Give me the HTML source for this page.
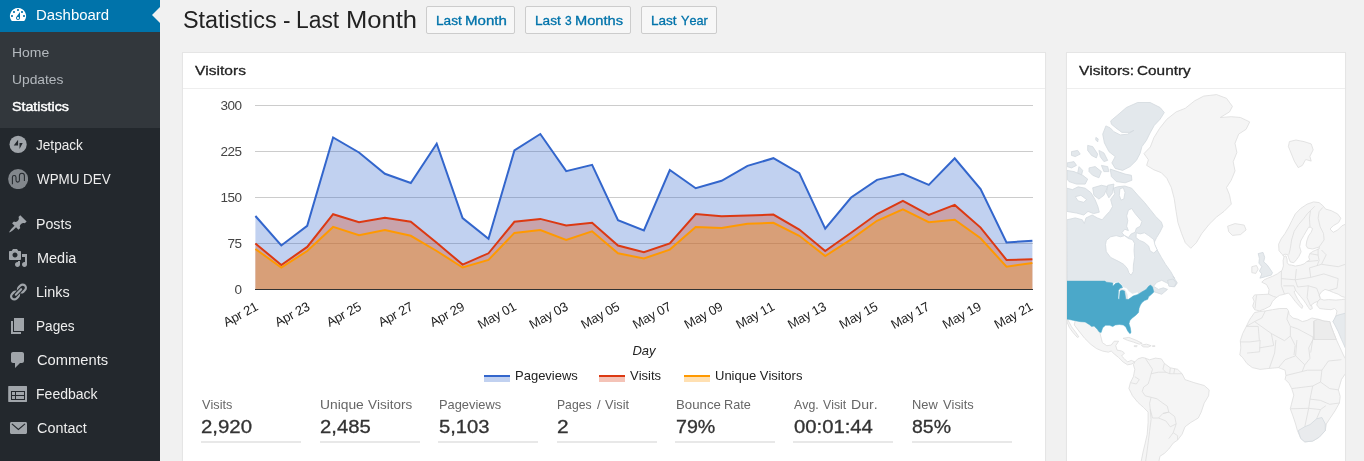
<!DOCTYPE html>
<html lang="en">
<head>
<meta charset="utf-8">
<title>Statistics</title>
<style>
html,body{margin:0;padding:0}
body{width:1364px;height:461px;overflow:hidden;background:#f1f1f1;font-family:"Liberation Sans",Arial,sans-serif;font-size:13px;color:#444;position:relative;font-kerning:none}
.t{position:absolute;display:block;white-space:nowrap;transform-origin:0 0;margin:0;padding:0}
#menu{position:absolute;left:0;top:0;width:160px;height:461px;background:#23282d;overflow:hidden}
#menu ul{list-style:none;margin:0;padding:0}
#menu .top{position:absolute;left:0;width:160px;height:34px;color:#eee}
#menu .top svg{position:absolute;left:8px;top:7px;width:20px;height:20px;fill:#a0a5aa}
#menu .cur{background:#0073aa;color:#fff}
#menu .cur svg{fill:#fff}
#menu .cur:after{content:"";position:absolute;right:0;top:9px;border:8px solid transparent;border-right-color:#f1f1f1;border-left-width:0}
#menu .sub{position:absolute;left:0;top:32px;width:160px;height:96px;background:#32373c;color:#b4b9be}
h1{margin:0;font-weight:400;color:#222;font-size:23px}
.btn{position:absolute;top:6px;height:26px;border:1px solid #ccc;border-radius:2px;background:#f7f7f7;color:#0073aa}
.box{position:absolute;background:#fff;border:1px solid #e5e5e5;box-shadow:0 1px 1px rgba(0,0,0,.04);box-sizing:border-box;overflow:hidden}
.box h2{margin:0;height:35px;border-bottom:1px solid #eee;font-size:14px;font-weight:400;color:#222}
.chart{position:absolute;left:0;top:36px}
.map{position:absolute;left:0;top:36px}
.stat{position:absolute;top:343px;width:100px;height:45px;border-bottom:2px solid #e8e8e8}
</style>
</head>
<body>
<div id="menu">
<ul>
<li class="top cur" style="top:-2px"><svg viewBox="0 0 20 20"><path d="M3.76 16h12.48A7.998 7.998 0 0 0 10 3a7.998 7.998 0 0 0-6.24 13zM10 4c.55 0 1 .45 1 1s-.45 1-1 1-1-.45-1-1 .45-1 1-1zM6 6c.55 0 1 .45 1 1s-.45 1-1 1-1-.45-1-1 .45-1 1-1zm8 0c.55 0 1 .45 1 1s-.45 1-1 1-1-.45-1-1 .45-1 1-1zm-5.370 5.550L12 7v6c0 1.100-.9 2-2 2s-2-.9-2-2c0-.570.240-1.080.630-1.450zM4 10c.550 0 1 .450 1 1s-.450 1-1 1-1-.450-1-1 .450-1 1-1zm12 0c.550 0 1 .450 1 1s-.450 1-1 1-1-.450-1-1 .450-1 1-1zm-5 3c0-.550-.450-1-1-1s-1 .450-1 1 .450 1 1 1 1-.450 1-1z"/></svg><span class="t" style="left:35.87px;top:9px;font-size:14px;line-height:16px;transform:scaleX(1.0672);">Dashboard</span></li>
</ul>
<ul class="sub">
<li class="t" style="left:12.05px;top:13px;font-size:13px;line-height:15px;transform:scaleX(1.0747);">Home</li><li class="t" style="left:11.73px;top:40px;font-size:13px;line-height:15px;transform:scaleX(1.0629);">Updates</li><li class="t" style="left:11.85px;top:67px;font-size:13px;line-height:15px;transform:scaleX(1.0932);color:#fff;-webkit-text-stroke:0.45px;">Statistics</li>
</ul>
<ul>
<li class="top" style="top:128px"><svg viewBox="0 0 20 20"><circle cx="10.1" cy="9.4" r="8.6"/><path d="M10.100 4.700v5.900H5.700zM11.500 8.100h3.200l-3.200 5.900z" fill="#23282d"/></svg><span class="t" style="left:35.69px;top:9px;font-size:14px;line-height:16px;transform:scaleX(0.9719);">Jetpack</span></li>
<li class="top" style="top:162px"><svg viewBox="0 0 20 20"><circle cx="10.1" cy="10.1" r="10" fill="#82878c"/><path d="M4.400 15.200V8.300C4.400 7 5 6.400 6.200 6.400S8 7 8 8.300v2.900c0 1.300.6 1.900 1.700 1.900s1.700-.6 1.700-1.900V6.800c0-1.800 1-2.500 2.500-2.500s2.500.7 2.500 2.500v5.300" fill="none" stroke="#23282d" stroke-width="1.050"/></svg><span class="t" style="left:36.64px;top:9px;font-size:14px;line-height:16px;transform:scaleX(0.9561);">WPMU DEV</span></li>
<li class="top" style="top:207px"><svg viewBox="0 0 20 20"><path d="M10.440 3.020l1.820-1.820 6.360 6.350-1.830 1.820c-1.050-.68-2.480-.57-3.410.36l-.75.750c-.92.930-1.040 2.350-.35 3.410l-1.830 1.820-2.410-2.410-2.800 2.790c-.42.420-3.380 2.710-3.800 2.290s1.860-3.390 2.280-3.810l2.790-2.790L4.100 9.360l1.830-1.820c1.050.69 2.480.57 3.400-.36l.75-.750c.93-.92 1.050-2.350.36-3.410z"/></svg><span class="t" style="left:36.14px;top:9px;font-size:14px;line-height:16px;transform:scaleX(1.0132);">Posts</span></li>
<li class="top" style="top:241px"><svg viewBox="0 0 20 20"><path d="M13 11V4c0-.55-.45-1-1-1h-1.670L9 1H5L3.670 3H2c-.55 0-1 .45-1 1v7c0 .55.45 1 1 1h10c.55 0 1-.45 1-1zM7 4.500c1.380 0 2.500 1.120 2.500 2.500S8.380 9.500 7 9.500 4.500 8.380 4.500 7 5.620 4.500 7 4.500zM14 6h5v10.500c0 1.380-1.120 2.500-2.500 2.500S14 17.880 14 16.500s1.120-2.500 2.500-2.500c.17 0 .34.020.5.050V9h-3V6zm-4 8.050V13h2v3.500c0 1.380-1.120 2.500-2.500 2.500S7 17.880 7 16.500 8.120 14 9.500 14c.17 0 .34.020.5.050z"/></svg><span class="t" style="left:36.71px;top:9px;font-size:14px;line-height:16px;transform:scaleX(1.0329);">Media</span></li>
<li class="top" style="top:275px"><svg viewBox="0 0 20 20"><path d="M17.740 2.760c1.680 1.690 1.680 4.410 0 6.100l-1.530 1.520c-1.120 1.120-2.700 1.470-4.140 1.090l2.620-2.610.76-.77.760-.76c.84-.84.840-2.200 0-3.040-.84-.85-2.200-.85-3.040 0l-.77.760-3.380 3.380c-.37-1.440-.02-3.020 1.100-4.140l1.520-1.530c1.690-1.680 4.420-1.680 6.100 0zM8.590 13.430l5.340-5.340c.42-.42.420-1.100 0-1.520-.44-.43-1.130-.39-1.530 0l-5.330 5.340c-.42.420-.42 1.100 0 1.520.44.430 1.130.39 1.520 0zm-.76 2.290l4.140-4.150c.38 1.440.03 3.020-1.090 4.140l-1.520 1.530c-1.690 1.680-4.410 1.680-6.100 0-1.680-1.680-1.680-4.420 0-6.100l1.530-1.520c1.120-1.120 2.700-1.470 4.140-1.100l-4.140 4.150c-.85.840-.85 2.200 0 3.050.84.840 2.200.84 3.040 0z"/></svg><span class="t" style="left:36.12px;top:9px;font-size:14px;line-height:16px;transform:scaleX(1.0281);">Links</span></li>
<li class="top" style="top:309px"><svg viewBox="0 0 20 20"><path d="M6 15V2h10v13H6zm-1 1h8v2H3V5h2v11z"/></svg><span class="t" style="left:36.18px;top:9px;font-size:14px;line-height:16px;transform:scaleX(0.9726);">Pages</span></li>
<li class="top" style="top:343px"><svg viewBox="0 0 20 20"><path d="M5 2h9c1.100 0 2 .9 2 2v7c0 1.100-.9 2-2 2h-2l-5 5v-5H5c-1.100 0-2-.9-2-2V4c0-1.100.9-2 2-2z"/></svg><span class="t" style="left:36.85px;top:9px;font-size:14px;line-height:16px;transform:scaleX(1.0502);">Comments</span></li>
<li class="top" style="top:377px"><svg viewBox="0 0 20 20"><path d="M.700 2h17.800c.3 0 .5.200.5.500v15c0 .3-.2.500-.5.500H.7c-.3 0-.5-.2-.5-.5v-15c0-.3.200-.5.500-.5zM17 16V7H3v9h14zM4 8v3h3V8H4zm4 0v3h8V8H8zm-4 4v3h3v-3H4zm4 0v3h8v-3H8z"/></svg><span class="t" style="left:36.15px;top:9px;font-size:14px;line-height:16px;transform:scaleX(1.0024);">Feedback</span></li>
<li class="top" style="top:411px"><svg viewBox="0 0 20 20"><path d="M19 14.500v-9c0-.83-.67-1.500-1.500-1.500H3.490c-.83 0-1.500.67-1.500 1.500v9c0 .83.670 1.500 1.500 1.500H17.500c.83 0 1.500-.67 1.500-1.500z"/><path d="M3.900 5.800l6.500 5.700 6.600-5.700" fill="none" stroke="#23282d" stroke-width="1.100"/></svg><span class="t" style="left:36.87px;top:9px;font-size:14px;line-height:16px;transform:scaleX(1.0288);">Contact</span></li>
</ul>
</div>

<h1><span class="t w" style="left:182.54px;top:7px;font-size:23px;line-height:26px;transform:scaleX(1.0172);">Statistics</span><span class="t w" style="left:282.60px;top:7px;font-size:23px;line-height:26px;transform:scaleX(0.9795);">-</span><span class="t w" style="left:296.23px;top:7px;font-size:23px;line-height:26px;transform:scaleX(0.9923);">Last</span><span class="t w" style="left:345.60px;top:7px;font-size:23px;line-height:26px;transform:scaleX(1.1116);">Month</span></h1>
<a class="btn" style="left:426px;width:87px"><span class="t" style="left:8.68px;top:6px;font-size:13px;line-height:15px;transform:scaleX(1.0466);-webkit-text-stroke:0.32px;">Last</span><span class="t" style="left:38.07px;top:6px;font-size:13px;line-height:15px;transform:scaleX(1.1572);-webkit-text-stroke:0.32px;">Month</span></a>
<a class="btn" style="left:525px;width:104px"><span class="t" style="left:8.68px;top:6px;font-size:13px;line-height:15px;transform:scaleX(1.0466);-webkit-text-stroke:0.32px;">Last</span><span class="t" style="left:38.74px;top:6px;font-size:13px;line-height:15px;transform:scaleX(0.9248);-webkit-text-stroke:0.32px;">3</span><span class="t" style="left:48.70px;top:6px;font-size:13px;line-height:15px;transform:scaleX(1.1267);-webkit-text-stroke:0.32px;">Months</span></a>
<a class="btn" style="left:641px;width:74px"><span class="t" style="left:8.69px;top:6px;font-size:13px;line-height:15px;transform:scaleX(1.0423);-webkit-text-stroke:0.32px;">Last</span><span class="t" style="left:39.22px;top:6px;font-size:13px;line-height:15px;transform:scaleX(0.9756);-webkit-text-stroke:0.32px;">Year</span></a>

<div class="box" style="left:182px;top:52px;width:864px;height:420px">
<h2><span class="t" style="left:11.93px;top:10.200000000000003px;font-size:13.6px;line-height:15px;transform:scaleX(1.1423);-webkit-text-stroke:0.3px;">Visitors</span></h2>
<svg class="chart" width="862" height="310" viewBox="183 89 862 310">
<g stroke="#ccc" stroke-width="1" shape-rendering="crispEdges">
<line x1="255" x2="1033" y1="105.5" y2="105.5"/><line x1="255" x2="1033" y1="151.5" y2="151.5"/><line x1="255" x2="1033" y1="197.5" y2="197.5"/><line x1="255" x2="1033" y1="243.5" y2="243.5"/>
</g>
<polygon points="255.4,289.5 255.4,216.0 281.3,245.5 307.2,225.9 333.1,137.5 359.0,152.5 384.9,173.8 410.8,183.0 436.7,143.7 462.6,218.1 488.5,238.9 514.4,150.5 540.3,134.0 566.2,171.1 592.1,164.9 618.0,220.1 643.9,230.4 669.8,170.0 695.7,188.2 721.6,180.8 747.5,165.9 773.4,158.2 799.3,173.1 825.2,228.6 851.1,197.5 877.0,179.9 902.9,173.8 928.8,184.9 954.7,158.3 980.6,189.0 1006.5,242.4 1032.4,240.7 1032.4,289.5" fill="#3366cc" fill-opacity="0.3"/>
<polygon points="255.4,289.5 255.4,243.4 281.3,265.0 307.2,246.9 333.1,214.2 359.0,222.2 384.9,217.7 410.8,221.8 436.7,242.8 462.6,264.6 488.5,253.3 514.4,221.8 540.3,218.9 566.2,225.5 592.1,222.8 618.0,245.5 643.9,252.3 669.8,243.4 695.7,214.0 721.6,216.2 747.5,215.6 773.4,214.6 799.3,229.6 825.2,251.0 851.1,232.7 877.0,214.0 902.9,200.8 928.8,215.0 954.7,204.9 980.6,227.6 1006.5,259.9 1032.4,259.3 1032.4,289.5" fill="#dc3912" fill-opacity="0.3"/>
<polygon points="255.4,289.5 255.4,249.0 281.3,267.5 307.2,251.0 333.1,226.9 359.0,235.2 384.9,230.0 410.8,235.8 436.7,251.0 462.6,267.5 488.5,259.9 514.4,232.9 540.3,230.0 566.2,239.9 592.1,231.3 618.0,253.3 643.9,258.5 669.8,249.6 695.7,226.9 721.6,228.0 747.5,223.8 773.4,222.8 799.3,235.8 825.2,256.0 851.1,239.3 877.0,220.8 902.9,209.4 928.8,222.2 954.7,219.7 980.6,238.3 1006.5,266.7 1032.4,263.0 1032.4,289.5" fill="#ff9900" fill-opacity="0.3"/>
<line x1="255" x2="1033" y1="289.5" y2="289.5" stroke="#333" stroke-width="1" shape-rendering="crispEdges"/>
<polyline points="255.4,216.0 281.3,245.5 307.2,225.9 333.1,137.5 359.0,152.5 384.9,173.8 410.8,183.0 436.7,143.7 462.6,218.1 488.5,238.9 514.4,150.5 540.3,134.0 566.2,171.1 592.1,164.9 618.0,220.1 643.9,230.4 669.8,170.0 695.7,188.2 721.6,180.8 747.5,165.9 773.4,158.2 799.3,173.1 825.2,228.6 851.1,197.5 877.0,179.9 902.9,173.8 928.8,184.9 954.7,158.3 980.6,189.0 1006.5,242.4 1032.4,240.7" fill="none" stroke="#3366cc" stroke-width="2"/>
<polyline points="255.4,243.4 281.3,265.0 307.2,246.9 333.1,214.2 359.0,222.2 384.9,217.7 410.8,221.8 436.7,242.8 462.6,264.6 488.5,253.3 514.4,221.8 540.3,218.9 566.2,225.5 592.1,222.8 618.0,245.5 643.9,252.3 669.8,243.4 695.7,214.0 721.6,216.2 747.5,215.6 773.4,214.6 799.3,229.6 825.2,251.0 851.1,232.7 877.0,214.0 902.9,200.8 928.8,215.0 954.7,204.9 980.6,227.6 1006.5,259.9 1032.4,259.3" fill="none" stroke="#dc3912" stroke-width="2"/>
<polyline points="255.4,249.0 281.3,267.5 307.2,251.0 333.1,226.9 359.0,235.2 384.9,230.0 410.8,235.8 436.7,251.0 462.6,267.5 488.5,259.9 514.4,232.9 540.3,230.0 566.2,239.9 592.1,231.3 618.0,253.3 643.9,258.5 669.8,249.6 695.7,226.9 721.6,228.0 747.5,223.8 773.4,222.8 799.3,235.8 825.2,256.0 851.1,239.3 877.0,220.8 902.9,209.4 928.8,222.2 954.7,219.7 980.6,238.3 1006.5,266.7 1032.4,263.0" fill="none" stroke="#ff9900" stroke-width="2"/>
<g font-family="Liberation Sans, Arial, sans-serif" font-size="13.5" fill="#444" letter-spacing="-0.55">
<g text-anchor="end">
<text x="241.4" y="110">300</text><text x="241.4" y="156">225</text><text x="241.4" y="202">150</text><text x="241.4" y="248">75</text><text x="241.4" y="294">0</text>
</g>
</g>
<g font-family="Liberation Sans, Arial, sans-serif" font-size="13" fill="#222" letter-spacing="-0.18">
<text x="258.9" y="309.3" text-anchor="end" transform="rotate(-28.5 258.9 309.3)">Apr 21</text>
<text x="310.6" y="309.3" text-anchor="end" transform="rotate(-28.5 310.6 309.3)">Apr 23</text>
<text x="362.2" y="309.3" text-anchor="end" transform="rotate(-28.5 362.2 309.3)">Apr 25</text>
<text x="413.9" y="309.3" text-anchor="end" transform="rotate(-28.5 413.9 309.3)">Apr 27</text>
<text x="465.5" y="309.3" text-anchor="end" transform="rotate(-28.5 465.5 309.3)">Apr 29</text>
<text x="517.2" y="309.3" text-anchor="end" transform="rotate(-28.5 517.2 309.3)">May 01</text>
<text x="568.9" y="309.3" text-anchor="end" transform="rotate(-28.5 568.9 309.3)">May 03</text>
<text x="620.5" y="309.3" text-anchor="end" transform="rotate(-28.5 620.5 309.3)">May 05</text>
<text x="672.2" y="309.3" text-anchor="end" transform="rotate(-28.5 672.2 309.3)">May 07</text>
<text x="723.8" y="309.3" text-anchor="end" transform="rotate(-28.5 723.8 309.3)">May 09</text>
<text x="775.5" y="309.3" text-anchor="end" transform="rotate(-28.5 775.5 309.3)">May 11</text>
<text x="827.2" y="309.3" text-anchor="end" transform="rotate(-28.5 827.2 309.3)">May 13</text>
<text x="878.8" y="309.3" text-anchor="end" transform="rotate(-28.5 878.8 309.3)">May 15</text>
<text x="930.5" y="309.3" text-anchor="end" transform="rotate(-28.5 930.5 309.3)">May 17</text>
<text x="982.1" y="309.3" text-anchor="end" transform="rotate(-28.5 982.1 309.3)">May 19</text>
<text x="1033.8" y="309.3" text-anchor="end" transform="rotate(-28.5 1033.8 309.3)">May 21</text>
</g>
<text x="644" y="355" text-anchor="middle" font-family="Liberation Sans, Arial, sans-serif" font-size="13" font-style="italic" fill="#222">Day</text>
<g font-family="Liberation Sans, Arial, sans-serif" font-size="13" fill="#222">
<rect x="484" y="376" width="26" height="6" fill="#3366cc" fill-opacity="0.3"/><rect x="484" y="375" width="26" height="2" fill="#3366cc"/><text x="515" y="380">Pageviews</text>
<rect x="599" y="376" width="26" height="6" fill="#dc3912" fill-opacity="0.3"/><rect x="599" y="375" width="26" height="2" fill="#dc3912"/><text x="630" y="380">Visits</text>
<rect x="684" y="376" width="26" height="6" fill="#ff9900" fill-opacity="0.3"/><rect x="684" y="375" width="26" height="2" fill="#ff9900"/><text x="715" y="380">Unique Visitors</text>
</g>
</svg>
<div class="stat" style="left:18px"><div class="l"><span class="t" style="left:1.24px;top:1px;font-size:13px;line-height:15px;transform:scaleX(0.9760);color:#666;">Visits</span></div><div class="v"><span class="t" style="left:0.27px;top:21.399999999999977px;font-size:17.5px;line-height:20px;transform:scaleX(1.1651);color:#333;-webkit-text-stroke:0.3px;">2,920</span></div></div>
<div class="stat" style="left:137px"><div class="l"><span class="t" style="left:0.13px;top:1px;font-size:13px;line-height:15px;transform:scaleX(1.0627);color:#666;">Unique</span><span class="t" style="left:47.54px;top:1px;font-size:13px;line-height:15px;transform:scaleX(1.0358);color:#666;">Visitors</span></div><div class="v"><span class="t" style="left:0.18px;top:21.399999999999977px;font-size:17.5px;line-height:20px;transform:scaleX(1.1570);color:#333;-webkit-text-stroke:0.3px;">2,485</span></div></div>
<div class="stat" style="left:255px"><div class="l"><span class="t" style="left:0.85px;top:1px;font-size:13px;line-height:15px;transform:scaleX(0.9881);color:#666;">Pageviews</span></div><div class="v"><span class="t" style="left:1.09px;top:21.399999999999977px;font-size:17.5px;line-height:20px;transform:scaleX(1.1530);color:#333;-webkit-text-stroke:0.3px;">5,103</span></div></div>
<div class="stat" style="left:374px"><div class="l"><span class="t" style="left:-0.10px;top:1px;font-size:13px;line-height:15px;transform:scaleX(0.9370);color:#666;">Pages</span><span class="t" style="left:39.70px;top:1px;font-size:13px;line-height:15px;transform:scaleX(0.9967);color:#666;">/</span><span class="t" style="left:48.04px;top:1px;font-size:13px;line-height:15px;transform:scaleX(0.9792);color:#666;">Visit</span></div><div class="v"><span class="t" style="left:-0.15px;top:21.399999999999977px;font-size:17.5px;line-height:20px;transform:scaleX(1.1916);color:#333;-webkit-text-stroke:0.3px;">2</span></div></div>
<div class="stat" style="left:492px"><div class="l"><span class="t" style="left:0.51px;top:1px;font-size:13px;line-height:15px;transform:scaleX(1.0177);color:#666;">Bounce</span><span class="t" style="left:49.46px;top:1px;font-size:13px;line-height:15px;transform:scaleX(0.9761);color:#666;">Rate</span></div><div class="v"><span class="t" style="left:0.59px;top:21.399999999999977px;font-size:17.5px;line-height:20px;transform:scaleX(1.1222);color:#333;-webkit-text-stroke:0.3px;">79%</span></div></div>
<div class="stat" style="left:610px"><div class="l"><span class="t" style="left:1.08px;top:1px;font-size:13px;line-height:15px;transform:scaleX(0.9476);color:#666;">Avg.</span><span class="t" style="left:30.25px;top:1px;font-size:13px;line-height:15px;transform:scaleX(0.9424);color:#666;">Visit</span><span class="t" style="left:57.74px;top:1px;font-size:13px;line-height:15px;transform:scaleX(1.0849);color:#666;">Dur.</span></div><div class="v"><span class="t" style="left:0.81px;top:21.399999999999977px;font-size:17.5px;line-height:20px;transform:scaleX(1.1580);color:#333;-webkit-text-stroke:0.3px;">00:01:44</span></div></div>
<div class="stat" style="left:729px"><div class="l"><span class="t" style="left:0.15px;top:1px;font-size:13px;line-height:15px;transform:scaleX(0.9891);color:#666;">New</span><span class="t" style="left:30.74px;top:1px;font-size:13px;line-height:15px;transform:scaleX(0.9891);color:#666;">Visits</span></div><div class="v"><span class="t" style="left:0.35px;top:21.399999999999977px;font-size:17.5px;line-height:20px;transform:scaleX(1.1117);color:#333;-webkit-text-stroke:0.3px;">85%</span></div></div>
</div>

<div class="box" style="left:1066px;top:52px;width:280px;height:420px">
<h2><span class="t" style="left:12.23px;top:10.200000000000003px;font-size:13.6px;line-height:15px;transform:scaleX(1.1410);-webkit-text-stroke:0.3px;">Visitors:</span><span class="t" style="left:70.12px;top:10.200000000000003px;font-size:13.6px;line-height:15px;transform:scaleX(1.1279);-webkit-text-stroke:0.3px;">Country</span></h2>
<svg class="map" width="278" height="372" viewBox="1067 89 278 372" stroke-linejoin="round">
<path d="M1110.7 120.9 L1117.7 115.0 L1126.4 107.5 L1137.6 102.5 L1150.1 102.5 L1160.1 107.5 L1164.3 112.5 L1160.1 119.2 L1154.3 125.4 L1150.1 132.9 L1146.4 140.4 L1141.9 146.6 L1140.1 153.4 L1136.4 160.4 L1130.1 166.6 L1122.6 170.4 L1115.2 168.4 L1111.9 162.9 L1115.2 156.6 L1108.9 151.6 L1104.4 142.9 L1102.7 134.2 L1105.9 125.9 L1110.2 127.9 L1113.9 131.7 L1120.2 134.9 L1127.6 134.2 L1133.9 130.4 L1129.4 132.4 L1121.9 132.4 L1115.9 127.9 L1111.4 124.2Z" fill="#e3e8ec" stroke="#d3d9de" stroke-width="0.8"/>
<path d="M1110.2 169.1 L1117.7 171.6 L1125.1 174.1 L1131.4 175.3 L1131.9 180.3 L1125.1 182.8 L1116.4 181.6 L1111.4 176.6Z" fill="#e3e8ec" stroke="#d3d9de" stroke-width="0.8"/>
<path d="M1087.7 145.4 L1092.7 146.6 L1097.7 154.1 L1096.4 157.9 L1091.5 155.4 L1087.7 150.4Z" fill="#e3e8ec" stroke="#d3d9de" stroke-width="0.8"/>
<path d="M1098.9 150.4 L1103.9 152.9 L1107.7 160.4 L1103.9 161.6 L1100.2 156.6Z" fill="#e3e8ec" stroke="#d3d9de" stroke-width="0.8"/>
<path d="M1071.5 151.6 L1077.7 150.4 L1080.2 154.1 L1075.2 156.6 L1071.5 155.4Z" fill="#e3e8ec" stroke="#d3d9de" stroke-width="0.8"/>
<path d="M1067.0 162.9 L1074.0 161.6 L1076.5 165.4 L1071.5 167.9 L1067.0 166.6Z" fill="#e3e8ec" stroke="#d3d9de" stroke-width="0.8"/>
<path d="M1079.0 166.6 L1082.7 170.4 L1081.5 175.3 L1077.7 172.9Z" fill="#e3e8ec" stroke="#d3d9de" stroke-width="0.8"/>
<path d="M1089.0 167.9 L1095.2 166.6 L1101.4 171.6 L1098.9 177.8 L1092.7 175.3 L1089.0 171.6Z" fill="#e3e8ec" stroke="#d3d9de" stroke-width="0.8"/>
<path d="M1101.4 165.4 L1107.7 166.6 L1108.9 171.6 L1103.9 171.6Z" fill="#e3e8ec" stroke="#d3d9de" stroke-width="0.8"/>
<path d="M1067.0 170.4 L1074.0 171.6 L1082.7 175.3 L1087.7 179.1 L1085.2 184.1 L1076.5 184.1 L1069.0 181.6 L1067.0 179.1Z" fill="#e3e8ec" stroke="#d3d9de" stroke-width="0.8"/>
<path d="M1092.7 187.8 L1101.4 185.3 L1107.7 186.6 L1103.9 195.3 L1098.9 199.1 L1093.9 195.3Z" fill="#e3e8ec" stroke="#d3d9de" stroke-width="0.8"/>
<path d="M1107.7 185.3 L1113.9 184.1 L1112.7 192.8 L1108.9 197.8 L1106.4 192.8Z" fill="#e3e8ec" stroke="#d3d9de" stroke-width="0.8"/>
<path d="M1095.9 137.4 L1098.2 138.9 L1097.7 141.9 L1095.7 139.9Z" fill="#e3e8ec" stroke="#d3d9de" stroke-width="0.8"/>
<path d="M1066.8 219.8 L1075.3 217.9 L1082.3 219.8 L1084.3 223.5 L1086.0 217.9 L1092.2 215.0 L1097.3 217.9 L1102.1 219.8 L1106.3 215.0 L1109.7 211.4 L1112.5 206.6 L1110.6 199.5 L1114.8 193.9 L1113.4 188.2 L1117.6 186.8 L1124.7 186.0 L1131.7 188.2 L1137.9 195.3 L1144.4 202.3 L1150.1 209.4 L1155.7 216.4 L1161.4 222.1 L1162.8 226.3 L1160.0 232.0 L1156.6 237.6 L1153.8 243.3 L1157.1 249.8 L1161.4 257.4 L1165.6 264.4 L1170.7 271.5 L1174.6 278.5 L1173.1 276.4 L1177.3 282.9 L1174.7 286.8 L1168.2 283.6 L1161.7 280.3 L1156.8 282.3 L1153.5 286.2 L1158.4 289.4 L1163.3 287.8 L1167.5 289.4 L1161.7 294.3 L1156.8 292.7 L1151.9 291.1 L1150.3 292.7 L1129.1 299.2 L1067.3 299.2Z" fill="#e3e8ec" stroke="#d3d9de" stroke-width="0.8"/>
<path d="M1106.3 240.4 L1110.6 236.8 L1116.2 235.6 L1120.4 236.8 L1124.7 235.6 L1128.4 238.5 L1132.3 239.6 L1134.6 243.3 L1134.0 250.3 L1134.6 257.4 L1133.4 265.0 L1133.2 271.5 L1131.2 275.2 L1128.9 272.9 L1127.5 268.7 L1123.8 264.4 L1119.0 261.6 L1110.6 257.4 L1106.3 251.7 L1105.5 244.7Z" fill="#ffffff" stroke="#d3d9de" stroke-width="0.8"/>
<path d="M1128.4 210.2 L1131.7 208.5 L1135.1 213.6 L1138.8 217.9 L1141.9 221.5 L1140.2 226.3 L1136.3 228.3 L1135.1 232.3 L1131.2 233.9 L1128.4 237.6 L1124.7 235.6 L1121.9 232.8 L1124.7 229.2 L1128.4 230.6 L1126.7 226.3 L1127.8 220.7 L1126.7 215.9Z" fill="#ffffff" stroke="#d3d9de" stroke-width="0.8"/>
<path d="M1136.3 232.8 L1140.2 233.9 L1144.4 232.8 L1148.7 235.6 L1153.8 239.6 L1154.9 244.7 L1157.1 249.8 L1153.8 253.1 L1150.1 250.9 L1148.7 246.1 L1144.4 242.4 L1139.6 240.4 L1136.0 237.6Z" fill="#ffffff" stroke="#d3d9de" stroke-width="0.8"/>
<path d="M1119.9 188.8 L1123.3 187.7 L1125.0 192.5 L1123.8 199.0 L1121.0 200.1 L1119.3 195.3Z" fill="#ffffff" stroke="#d3d9de" stroke-width="0.8"/>
<path d="M1066.8 188.2 L1072.5 189.6 L1078.1 186.8 L1085.2 188.2 L1090.8 192.5 L1095.0 199.5 L1097.9 206.6 L1099.3 212.2 L1093.6 213.6 L1088.0 211.4 L1083.8 215.0 L1076.7 213.1 L1066.8 211.4Z" fill="#e3e8ec" stroke="#d3d9de" stroke-width="0.8"/>
<path d="M1075.3 196.7 L1080.9 195.3 L1086.6 199.5 L1083.8 202.3 L1078.1 200.9Z" fill="#ffffff" stroke="#d3d9de" stroke-width="0.8"/>
<path d="M1167.5 280.3 L1173.1 279.0 L1176.3 282.9 L1174.1 286.8 L1168.9 286.2Z" fill="#e3e8ec" stroke="#d3d9de" stroke-width="0.8"/>
<path d="M1144.0 153.6 L1150.3 147.0 L1153.9 137.7 L1159.5 128.5 L1166.8 119.3 L1176.1 111.9 L1185.3 108.3 L1194.5 100.9 L1203.7 96.1 L1216.6 94.6 L1226.5 98.3 L1232.4 106.4 L1229.5 111.9 L1220.3 117.5 L1231.3 116.7 L1240.5 117.5 L1249.7 121.9 L1246.1 129.3 L1238.7 134.1 L1235.0 143.3 L1236.9 152.5 L1233.2 161.7 L1235.0 170.9 L1231.3 180.1 L1226.5 187.5 L1229.5 194.9 L1231.3 204.1 L1224.0 211.4 L1216.6 217.0 L1209.2 224.3 L1201.8 233.5 L1196.3 242.8 L1190.8 248.3 L1185.3 242.8 L1181.6 233.5 L1177.9 222.5 L1176.1 211.4 L1174.2 198.5 L1171.3 187.5 L1166.8 178.3 L1161.3 172.7 L1153.9 169.8 L1146.6 165.4 L1148.4 159.8Z" fill="#f5f5f5" stroke="#dddddd" stroke-width="0.8"/>
<path d="M1227.6 226.2 L1235.0 223.6 L1244.2 225.1 L1246.1 229.9 L1240.5 234.6 L1232.4 235.4 L1228.7 231.7Z" fill="#f5f5f5" stroke="#dddddd" stroke-width="0.8"/>
<path d="M1074.3 325.0 L1078.8 330.9 L1084.7 338.3 L1090.6 344.2 L1096.5 348.6 L1102.4 351.0 L1108.3 352.2 L1111.2 351.0 L1114.2 353.9 L1118.6 357.5 L1123.0 361.9 L1127.5 364.8 L1131.9 364.0 L1134.8 361.9 L1131.3 360.4 L1127.5 361.9 L1124.5 358.9 L1121.6 356.0 L1124.5 353.0 L1121.6 351.0 L1117.1 350.1 L1115.7 345.7 L1118.6 341.2 L1114.2 341.2 L1111.2 345.1 L1106.8 345.7 L1102.4 342.7 L1100.9 336.8 L1099.4 330.9 L1097.9 325.0 L1093.5 317.6 L1075.8 317.6Z" fill="#f5f5f5" stroke="#dddddd" stroke-width="0.8"/>
<path d="M1067.5 319.1 L1071.4 326.5 L1075.8 332.4 L1078.8 336.8 L1077.3 337.4 L1072.9 332.4 L1069.3 327.4 L1067.0 322.0Z" fill="#f5f5f5" stroke="#dddddd" stroke-width="0.8"/>
<path d="M1123.0 338.3 L1128.9 337.4 L1136.3 340.3 L1142.2 343.3 L1139.3 344.2 L1133.4 342.1 L1127.5 340.3Z" fill="#f5f5f5" stroke="#dddddd" stroke-width="0.8"/>
<path d="M1141.3 345.1 L1146.6 344.2 L1151.1 345.7 L1148.1 347.1 L1143.1 346.8Z" fill="#f5f5f5" stroke="#dddddd" stroke-width="0.8"/>
<path d="M1152.5 345.7 L1154.9 345.7 L1154.9 346.5 L1152.5 346.5Z" fill="#f5f5f5" stroke="#dddddd" stroke-width="0.8"/>
<path d="M1134.2 345.7 L1137.2 345.7 L1136.6 346.8 L1134.2 346.5Z" fill="#f5f5f5" stroke="#dddddd" stroke-width="0.8"/>
<path d="M1134.8 361.9 L1137.8 358.9 L1142.2 357.5 L1145.2 358.1 L1149.6 359.8 L1155.5 358.1 L1161.4 358.9 L1164.4 363.4 L1170.3 367.8 L1177.6 369.3 L1182.1 373.7 L1185.0 379.6 L1193.9 382.6 L1204.2 385.5 L1209.2 389.9 L1208.6 395.8 L1204.2 403.2 L1201.2 412.1 L1198.3 418.0 L1190.9 422.4 L1185.0 426.8 L1182.1 434.2 L1177.6 440.1 L1173.2 443.1 L1168.8 449.0 L1164.4 453.4 L1159.9 456.3 L1158.5 463.7 L1140.7 463.7 L1143.1 451.9 L1145.2 443.1 L1147.2 434.2 L1148.1 422.4 L1148.1 412.1 L1143.7 407.6 L1137.8 402.3 L1132.5 395.8 L1128.9 388.5 L1130.4 382.6 L1133.4 376.7 L1134.8 369.3 L1133.4 364.8Z" fill="#f5f5f5" stroke="#dddddd" stroke-width="0.8"/>
<path d="M1145.2 358.1 L1149.6 364.8 L1152.5 369.3 L1151.1 373.7" fill="none" stroke="#dddddd" stroke-width="0.8"/>
<path d="M1164.4 363.4 L1162.9 369.3 L1165.8 372.2" fill="none" stroke="#dddddd" stroke-width="0.8"/>
<path d="M1170.3 367.8 L1169.7 373.7" fill="none" stroke="#dddddd" stroke-width="0.8"/>
<path d="M1174.7 368.7 L1173.8 373.7" fill="none" stroke="#dddddd" stroke-width="0.8"/>
<path d="M1151.1 373.7 L1158.5 372.2 L1165.8 372.2 L1169.7 373.7 L1177.6 373.7 L1182.1 373.7" fill="none" stroke="#dddddd" stroke-width="0.8"/>
<path d="M1151.1 373.7 L1149.6 379.6 L1148.1 384.0 L1143.7 387.0" fill="none" stroke="#dddddd" stroke-width="0.8"/>
<path d="M1130.4 382.6 L1136.3 384.0 L1139.3 379.6 L1134.8 376.7" fill="none" stroke="#dddddd" stroke-width="0.8"/>
<path d="M1143.7 387.0 L1142.2 391.4 L1145.2 395.8 L1151.1 397.3 L1149.6 403.2 L1150.2 409.1" fill="none" stroke="#dddddd" stroke-width="0.8"/>
<path d="M1151.1 397.3 L1157.0 398.8 L1162.9 403.2 L1167.3 406.2 L1168.8 412.1 L1162.9 413.5 L1158.5 418.0 L1152.5 418.0 L1150.2 409.1" fill="none" stroke="#dddddd" stroke-width="0.8"/>
<path d="M1162.9 413.5 L1168.8 412.1 L1174.7 416.5 L1176.2 423.9 L1170.3 426.8 L1165.8 420.9 L1158.5 418.0" fill="none" stroke="#dddddd" stroke-width="0.8"/>
<path d="M1150.2 409.1 L1151.1 419.5 L1149.6 431.3 L1148.1 443.1 L1146.6 454.9 L1145.2 463.7" fill="none" stroke="#dddddd" stroke-width="0.8"/>
<path d="M1176.2 423.9 L1173.2 432.7 L1168.8 438.6" fill="none" stroke="#dddddd" stroke-width="0.8"/>
<path d="M1173.2 432.7 L1177.6 435.7 L1177.6 440.1" fill="none" stroke="#dddddd" stroke-width="0.8"/>
<path d="M1112.8 283.3 L1118.5 282.0 L1121.2 284.6 L1122.9 287.6 L1120.1 288.5 L1116.0 286.3 L1112.8 286.6Z" fill="#ffffff" stroke="#ffffff" stroke-width="0.3"/>
<path d="M1117.7 289.8 L1120.3 289.8 L1119.8 299.6 L1117.7 299.3Z" fill="#ffffff" stroke="#ffffff" stroke-width="0.3"/>
<path d="M1121.9 288.9 L1125.0 289.2 L1127.7 294.4 L1128.4 299.9 L1133.1 296.3 L1138.0 294.4 L1137.5 292.4 L1132.3 294.1 L1129.0 291.6 L1126.6 288.4 L1123.3 287.2Z" fill="#ffffff" stroke="#ffffff" stroke-width="0.3"/>
<path d="M1066.9 281.1 L1104.7 281.1 L1106.6 282.2 L1112.8 283.0 L1112.8 286.3 L1115.7 283.3 L1118.5 282.7 L1121.2 285.0 L1122.5 287.6 L1120.1 288.2 L1118.5 290.3 L1118.0 298.9 L1119.3 299.3 L1120.1 291.1 L1122.2 290.3 L1124.5 291.1 L1125.8 299.3 L1128.2 299.6 L1133.1 296.0 L1138.0 294.4 L1141.7 292.0 L1146.1 289.5 L1148.6 286.3 L1150.5 285.0 L1152.6 287.1 L1153.8 292.0 L1151.8 294.1 L1148.6 296.8 L1147.7 299.3 L1144.5 300.6 L1142.0 302.5 L1140.4 305.0 L1139.1 308.2 L1138.5 312.6 L1135.5 315.5 L1132.3 318.0 L1129.9 320.4 L1129.0 323.7 L1130.3 327.7 L1131.0 332.6 L1129.9 333.7 L1127.7 331.0 L1125.8 326.9 L1123.3 325.0 L1119.3 324.5 L1115.2 325.0 L1112.8 326.6 L1109.5 325.3 L1105.5 325.3 L1102.7 327.7 L1101.1 332.6 L1099.0 331.8 L1097.3 329.3 L1094.1 326.1 L1091.6 326.6 L1089.2 324.5 L1085.1 322.0 L1080.3 321.7 L1073.8 320.4 L1066.9 319.1Z" fill="#4ba8c9" stroke="#4ba8c9" stroke-width="0.5"/>
<path d="M1289.4 141.6 L1295.9 140.0 L1304.0 141.6 L1311.2 143.9 L1313.2 149.8 L1309.9 156.3 L1311.2 161.1 L1305.7 159.5 L1302.4 165.4 L1298.2 167.6 L1294.3 161.1 L1291.0 153.0 L1288.4 146.5Z" fill="#f5f5f5" stroke="#dddddd" stroke-width="0.8"/>
<path d="M1258.2 253.6 L1263.0 252.4 L1264.7 257.2 L1263.7 261.9 L1267.1 264.8 L1270.2 269.1 L1272.5 272.7 L1271.3 275.1 L1265.4 276.7 L1259.9 278.2 L1261.8 273.9 L1259.4 271.0 L1261.8 266.7 L1258.9 263.1 L1259.4 258.4Z" fill="#e6eaed" stroke="#d3d9de" stroke-width="0.8"/>
<path d="M1251.8 266.7 L1256.5 265.5 L1258.2 269.1 L1255.8 273.4 L1251.8 272.7Z" fill="#f5f5f5" stroke="#dddddd" stroke-width="0.8"/>
<path d="M1282.1 270.3 L1283.4 265.9 L1283.1 260.5 L1284.0 256.8 L1282.9 255.1 L1282.3 254.6 L1279.0 250.7 L1278.6 244.2 L1281.2 238.8 L1285.1 233.4 L1288.8 226.9 L1292.0 220.4 L1295.3 213.9 L1300.7 208.4 L1307.2 204.1 L1313.7 201.9 L1319.1 202.6 L1322.8 205.6 L1325.7 209.1 L1331.1 210.6 L1337.6 213.9 L1340.8 218.2 L1338.7 222.5 L1333.2 225.8 L1330.0 229.0 L1333.2 232.3 L1337.6 230.1 L1341.9 225.8 L1346.7 223.6 L1346.0 223.6 L1346.0 297.3 L1344.9 297.3 L1341.8 296.5 L1338.2 294.2 L1333.4 292.5 L1329.1 290.6 L1325.0 289.4 L1321.5 291.8 L1319.1 295.3 L1320.3 298.9 L1317.9 301.3 L1314.8 302.5 L1311.4 304.9 L1312.4 308.5 L1310.0 309.7 L1308.3 307.3 L1306.0 303.7 L1303.6 300.1 L1300.5 296.5 L1297.6 293.0 L1295.7 290.6 L1294.0 291.8 L1295.7 295.3 L1297.6 298.9 L1300.0 302.5 L1302.8 306.1 L1301.9 308.5 L1298.8 305.4 L1295.2 301.3 L1291.6 296.5 L1288.5 293.0 L1284.5 294.2 L1279.7 295.3 L1276.1 297.7 L1272.5 301.3 L1270.2 306.1 L1264.2 309.2 L1259.4 310.9 L1254.6 309.7 L1252.7 306.1 L1254.2 301.3 L1252.7 297.7 L1254.6 294.9 L1268.5 294.2 L1269.0 289.4 L1266.6 284.6 L1261.8 282.2 L1264.2 279.8 L1267.8 278.2 L1272.5 276.3 L1277.3 273.9 L1282.1 270.3Z" fill="#f5f5f5" stroke="#dddddd" stroke-width="0.8"/>
<path d="M1310.5 227.3 L1312.6 228.6 L1311.1 232.3 L1308.5 236.0 L1306.8 241.0 L1306.1 245.3 L1307.6 248.1 L1312.6 249.0 L1319.1 247.0 L1319.4 248.6 L1312.9 251.4 L1309.8 253.6 L1308.7 257.2 L1309.8 259.8 L1306.8 261.6 L1304.2 263.8 L1300.7 265.1 L1295.3 266.1 L1291.6 265.1 L1288.8 264.8 L1287.3 262.7 L1287.0 259.0 L1286.0 255.9 L1284.2 256.4 L1282.9 255.1 L1285.1 254.2 L1287.7 254.6 L1288.6 257.7 L1290.3 262.0 L1293.8 262.7 L1296.4 259.8 L1299.0 256.2 L1301.1 251.8 L1299.6 246.8 L1300.7 241.0 L1303.7 235.6 L1306.3 231.2 L1308.5 227.3Z" fill="#ffffff" stroke="#dddddd" stroke-width="0.8"/>
<path d="M1314.8 206.3 L1310.5 210.6 L1307.2 213.9 L1304.0 218.2 L1298.5 224.7 L1294.2 231.2 L1291.6 239.9 L1290.3 248.6 L1288.8 254.6" fill="none" stroke="#dddddd" stroke-width="0.8"/>
<path d="M1310.5 210.6 L1309.4 218.2 L1310.0 227.3" fill="none" stroke="#dddddd" stroke-width="0.8"/>
<path d="M1322.8 207.4 L1319.1 211.7 L1318.1 218.2 L1320.2 226.9 L1323.5 233.4 L1324.1 239.9 L1319.1 247.0" fill="none" stroke="#dddddd" stroke-width="0.8"/>
<path d="M1309.8 253.6 L1318.1 255.1" fill="none" stroke="#dddddd" stroke-width="0.8"/>
<path d="M1306.8 261.6 L1318.1 260.5" fill="none" stroke="#dddddd" stroke-width="0.8"/>
<path d="M1318.1 248.6 L1318.1 255.1 L1319.1 260.5 L1317.0 265.9" fill="none" stroke="#dddddd" stroke-width="0.8"/>
<path d="M1256.5 295.3 L1255.8 301.3 L1255.1 308.5" fill="none" stroke="#dddddd" stroke-width="0.8"/>
<path d="M1268.5 294.2 L1273.7 296.5 L1276.6 297.3" fill="none" stroke="#dddddd" stroke-width="0.8"/>
<path d="M1281.4 271.0 L1281.4 285.8 L1284.5 294.2" fill="none" stroke="#dddddd" stroke-width="0.8"/>
<path d="M1281.4 278.6 L1295.2 279.8 L1296.4 269.1" fill="none" stroke="#dddddd" stroke-width="0.8"/>
<path d="M1295.2 279.8 L1310.7 277.4 L1309.5 267.9" fill="none" stroke="#dddddd" stroke-width="0.8"/>
<path d="M1310.7 277.4 L1323.9 273.9 L1338.2 278.6 L1337.0 288.2 L1328.6 290.6" fill="none" stroke="#dddddd" stroke-width="0.8"/>
<path d="M1295.2 279.8 L1297.6 287.0 L1308.3 285.8 L1316.7 288.2 L1320.3 297.7" fill="none" stroke="#dddddd" stroke-width="0.8"/>
<path d="M1283.3 285.8 L1294.0 285.8 L1295.7 290.6" fill="none" stroke="#dddddd" stroke-width="0.8"/>
<path d="M1308.3 285.8 L1307.1 297.7 L1310.7 306.1" fill="none" stroke="#dddddd" stroke-width="0.8"/>
<path d="M1309.5 267.9 L1321.5 264.3 L1326.2 254.8 L1321.5 250.0" fill="none" stroke="#dddddd" stroke-width="0.8"/>
<path d="M1321.5 264.3 L1338.2 266.7 L1345.3 264.3" fill="none" stroke="#dddddd" stroke-width="0.8"/>
<path d="M1317.9 301.3 L1316.7 304.9 L1319.6 308.5 L1325.0 309.2 L1331.0 309.7 L1334.6 308.5 L1337.0 310.9 L1336.3 314.4 L1334.6 319.2 L1332.9 321.6 L1338.2 319.2 L1345.3 318.0 L1345.3 298.9 L1341.8 299.6 L1335.8 300.1 L1328.6 299.6 L1323.9 300.1 L1320.3 298.9Z" fill="#f5f5f5" stroke="#dddddd" stroke-width="0.8"/>
<path d="M1332.9 321.6 L1336.3 315.6 L1345.3 313.2 L1345.3 347.9 L1341.5 339.5 L1338.2 331.6 L1334.8 324.9Z" fill="#e6eaed" stroke="#d3d9de" stroke-width="0.8"/>
<path d="M1254.6 312.5 L1259.4 311.6 L1265.4 310.9 L1272.5 309.7 L1279.7 308.5 L1286.9 308.5 L1288.5 310.9 L1289.2 314.4 L1292.8 318.0 L1297.6 319.2 L1302.4 321.6 L1307.1 320.4 L1311.9 318.0 L1317.9 319.2 L1323.9 321.1 L1329.8 321.6 L1331.0 325.9 L1333.4 332.3 L1336.3 339.5 L1340.1 347.9 L1343.4 355.0 L1345.3 358.6 L1346.8 359.7 L1346.8 371.5 L1341.5 379.4 L1338.4 389.9 L1340.2 396.5 L1339.4 403.0 L1335.0 410.9 L1329.7 418.8 L1326.3 424.0 L1325.3 430.6 L1319.2 437.2 L1312.7 441.1 L1304.8 441.9 L1300.8 438.5 L1297.4 430.6 L1295.6 424.0 L1293.0 416.2 L1290.3 408.8 L1291.7 403.0 L1293.8 395.1 L1291.7 388.6 L1289.0 383.3 L1285.1 379.4 L1285.9 375.5 L1285.1 370.2 L1278.5 367.6 L1269.3 368.4 L1260.1 369.4 L1252.3 367.6 L1247.0 363.6 L1242.3 357.1 L1239.8 355.0 L1240.8 347.9 L1240.3 340.7 L1242.7 333.5 L1246.3 326.4 L1249.9 319.2Z" fill="#f5f5f5" stroke="#dddddd" stroke-width="0.8"/>
<path d="M1313.8 321.1 L1317.9 319.2 L1323.9 321.1 L1329.8 321.6 L1331.0 325.9 L1333.4 332.3 L1336.3 339.5 L1313.8 339.5Z" fill="#ececec" stroke="#dddddd" stroke-width="0.8"/>
<path d="M1265.4 310.9 L1261.8 318.0 L1254.6 321.6 L1246.3 326.4" fill="none" stroke="#dddddd" stroke-width="0.8"/>
<path d="M1288.5 310.9 L1286.9 319.2 L1290.4 326.4" fill="none" stroke="#dddddd" stroke-width="0.8"/>
<path d="M1254.6 321.6 L1271.3 333.5 L1284.5 340.7 L1290.4 335.9 L1290.4 326.4" fill="none" stroke="#dddddd" stroke-width="0.8"/>
<path d="M1290.4 326.4 L1297.6 328.8 L1313.1 337.1 L1313.8 339.5" fill="none" stroke="#dddddd" stroke-width="0.8"/>
<path d="M1246.3 326.4 L1258.2 326.4 L1259.4 340.7 L1249.9 341.9 L1240.3 341.9" fill="none" stroke="#dddddd" stroke-width="0.8"/>
<path d="M1271.3 333.5 L1273.7 345.5 L1259.4 347.9" fill="none" stroke="#dddddd" stroke-width="0.8"/>
<path d="M1290.4 335.9 L1295.2 345.5 L1294.0 355.0" fill="none" stroke="#dddddd" stroke-width="0.8"/>
<path d="M1313.1 337.1 L1310.7 352.6" fill="none" stroke="#dddddd" stroke-width="0.8"/>
<path d="M1313.8 339.5 L1313.8 321.1" fill="none" stroke="#dddddd" stroke-width="0.8"/>
<path d="M1260.1 340.0 L1259.6 351.8 L1247.0 353.1" fill="none" stroke="#dddddd" stroke-width="0.8"/>
<path d="M1275.9 340.0 L1274.6 353.1 L1269.3 368.4" fill="none" stroke="#dddddd" stroke-width="0.8"/>
<path d="M1296.9 340.0 L1295.6 355.8 L1285.1 359.7 L1278.5 367.6" fill="none" stroke="#dddddd" stroke-width="0.8"/>
<path d="M1295.6 355.8 L1304.8 364.9 L1310.0 358.4 L1308.7 347.9 L1312.7 340.0" fill="none" stroke="#dddddd" stroke-width="0.8"/>
<path d="M1304.8 364.9 L1302.2 371.5 L1285.9 375.5" fill="none" stroke="#dddddd" stroke-width="0.8"/>
<path d="M1302.2 371.5 L1307.4 370.2 L1321.9 370.2 L1328.4 361.0 L1341.5 359.7" fill="none" stroke="#dddddd" stroke-width="0.8"/>
<path d="M1321.9 370.2 L1320.5 382.0 L1312.7 386.0 L1291.7 388.6" fill="none" stroke="#dddddd" stroke-width="0.8"/>
<path d="M1320.5 382.0 L1329.7 388.6 L1338.4 389.9" fill="none" stroke="#dddddd" stroke-width="0.8"/>
<path d="M1312.7 386.0 L1310.0 399.1 L1308.7 408.3 L1290.3 408.8" fill="none" stroke="#dddddd" stroke-width="0.8"/>
<path d="M1310.0 399.1 L1320.5 400.4 L1329.7 404.3 L1339.4 403.0" fill="none" stroke="#dddddd" stroke-width="0.8"/>
<path d="M1308.7 408.3 L1304.8 426.7" fill="none" stroke="#dddddd" stroke-width="0.8"/>
<path d="M1308.7 408.3 L1320.5 409.6 L1325.8 405.7" fill="none" stroke="#dddddd" stroke-width="0.8"/>
<path d="M1320.5 409.6 L1316.6 418.8" fill="none" stroke="#dddddd" stroke-width="0.8"/>
<path d="M1298.2 430.6 L1304.8 426.7 L1310.0 424.6 L1316.6 418.8 L1321.9 417.5 L1325.3 424.0 L1325.3 430.6 L1319.2 437.2 L1312.7 441.1 L1304.8 441.9 L1300.8 438.5Z" fill="#e9ebed" stroke="#d3d9de" stroke-width="0.8"/>
</svg>
</div>
</body>
</html>
